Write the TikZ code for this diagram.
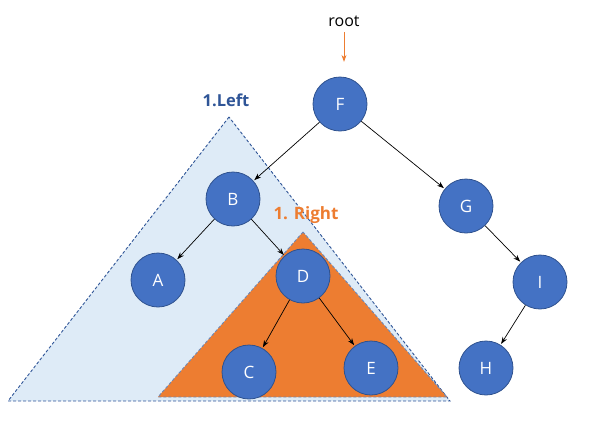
\documentclass[tikz,border=0pt]{standalone}
\usepackage{fontspec}
\setmainfont{Open Sans}
\usetikzlibrary{arrows.meta}
\definecolor{nodefill}{HTML}{4472C4}
\definecolor{nodeline}{HTML}{2F528F}
\definecolor{lightblue}{HTML}{DEEBF7}
\definecolor{darkblue}{HTML}{2F5597}
\definecolor{orng}{HTML}{ED7D31}
\begin{document}
\begin{tikzpicture}[x=1pt,y=-1pt,
  tnode/.style={circle,fill=nodefill,draw=nodeline,line width=0.8pt,minimum size=54pt,inner sep=0pt,text=white,font=\fontsize{17}{19}\selectfont},
  edge/.style={-{Stealth[length=7pt,width=5pt]},line width=0.7pt,shorten >=1pt},
  tri/.style={dashed,dash pattern=on 3pt off 2pt,draw=darkblue,line width=0.9pt}]
\useasboundingbox (0,0) rectangle (591,424);
% triangles
\coordinate (L1) at (229,117);
\coordinate (L2) at (8,401);
\coordinate (L3) at (450,401);
\fill[lightblue] (L1) -- (L2) -- (L3) -- cycle;
\draw[tri] (L1) -- (L2) -- (L3) -- cycle;
\coordinate (R1) at (303,232);
\coordinate (R2) at (158,397);
\coordinate (R3) at (447,397);
\fill[orng] (R1) -- (R2) -- (R3) -- cycle;
\draw[tri,draw=darkblue!70] (R1) -- (R2) -- (R3) -- cycle;
% labels
\node[font=\bfseries\fontsize{16.5}{18}\selectfont,text=darkblue] (lleft) at (226,100) {1.Left};
\node[font=\bfseries\fontsize{17}{19}\selectfont,text=orng] (lright) at (306,215) {1. Right};
\node[font=\fontsize{16}{18}\selectfont] (root) at (344,21) {root};
% nodes
\node[tnode] (F) at (340,104) {F};
\node[tnode] (B) at (233,199) {B};
\node[tnode] (G) at (466,206) {G};
\node[tnode] (A) at (158,280) {A};
\node[tnode] (D) at (303,276) {D};
\node[tnode] (I) at (540,282) {I};
\node[tnode] (C) at (249,372) {C};
\node[tnode] (E) at (371,368) {E};
\node[tnode] (H) at (486,368) {H};
% edges
\draw[-{Stealth[length=7pt,width=5pt]},orng,line width=0.9pt] (root.south) ++(0,2) -- ++(0,30);
\draw[edge] (F) -- (B);
\draw[edge] (F) -- (G);
\draw[edge] (B) -- (A);
\draw[edge] (B) -- (D);
\draw[edge] (D) -- (C);
\draw[edge] (D) -- (E);
\draw[edge] (G) -- (I);
\draw[edge] (I) -- (H);
\end{tikzpicture}
\end{document}
